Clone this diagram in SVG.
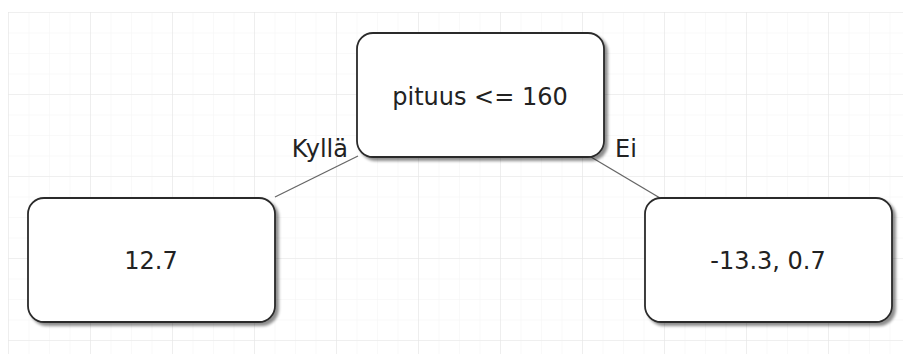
<svg xmlns="http://www.w3.org/2000/svg" width="903" height="354" viewBox="0 0 903 354">
  <defs>
    <pattern id="minor" x="8" y="12" width="20.5" height="20.5" patternUnits="userSpaceOnUse">
      <path d="M0 0 H20.5 M0 0 V20.5" fill="none" stroke="#f3f3f3" stroke-width="1"/>
    </pattern>
    <pattern id="major" x="8" y="12" width="82" height="82" patternUnits="userSpaceOnUse">
      <path d="M0 0 H82 M0 0 V82" fill="none" stroke="#e6e6e6" stroke-width="1.2"/>
    </pattern>
    <filter id="shadow" x="-10%" y="-10%" width="125%" height="130%">
      <feGaussianBlur in="SourceAlpha" stdDeviation="1.5"/>
      <feOffset dx="3" dy="3" result="b"/>
      <feComponentTransfer><feFuncA type="linear" slope="0.45"/></feComponentTransfer>
      <feMerge><feMergeNode/><feMergeNode in="SourceGraphic"/></feMerge>
    </filter>
  </defs>
  <style>
    .node rect { fill: #ffffff; stroke: #2b2b2b; stroke-width: 1.8; filter: url(#shadow); }
    .node text { font-family: "DejaVu Sans", Verdana, sans-serif; font-size: 24px; fill: #222; text-anchor: middle; }
    .edge line { stroke: #666; stroke-width: 1.3; }
    .label { font-family: "DejaVu Sans", Verdana, sans-serif; font-size: 24px; fill: #222; }
  </style>

  <!-- background grid -->
  <rect x="0" y="0" width="903" height="354" fill="#ffffff"/>
  <rect x="8" y="12" width="895" height="342" fill="url(#minor)"/>
  <rect x="8" y="12" width="895" height="342" fill="url(#major)"/>

  <!-- connectors -->
  <g id="edges" class="edge">
    <line x1="275" y1="197" x2="358" y2="156"/>
    <line x1="591" y1="157" x2="660" y2="198"/>
    <text class="label" x="348" y="157" text-anchor="end">Kyllä</text>
    <text class="label" x="615" y="157">Ei</text>
  </g>

  <g id="root" class="node">
    <rect x="357" y="33" width="247" height="124" rx="16" ry="16"/>
    <text x="480" y="105">pituus &lt;= 160</text>
  </g>

  <g id="leaf-yes" class="node">
    <rect x="28" y="198" width="247" height="124" rx="16" ry="16"/>
    <text x="151" y="269">12.7</text>
  </g>

  <g id="leaf-no" class="node">
    <rect x="645" y="198" width="247" height="124" rx="16" ry="16"/>
    <text x="768" y="269">-13.3, 0.7</text>
  </g>
</svg>
